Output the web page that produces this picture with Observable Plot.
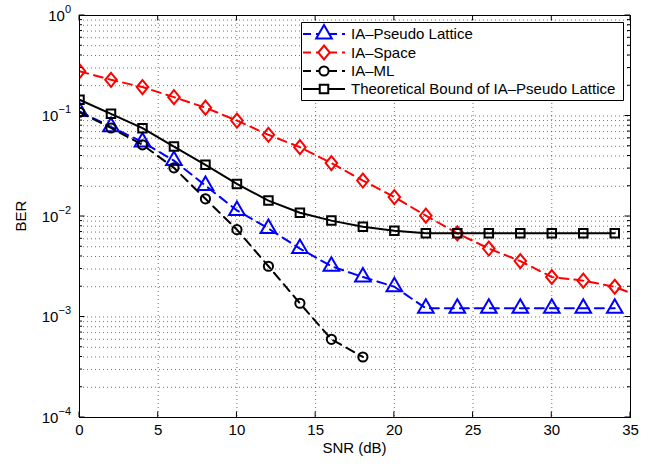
<!DOCTYPE html>
<html>
<head>
<meta charset="utf-8">
<script src="https://cdn.jsdelivr.net/npm/d3@7"></script>
<script src="https://cdn.jsdelivr.net/npm/@observablehq/plot@0.6"></script>
<style>
  body { margin: 0; background: #fff; }
  svg { font-family: "Liberation Sans", Arial, Helvetica, sans-serif; }
</style>
</head>
<body>
<div id="chart"></div>
<script>
// ---- data ----
const snr      = [0, 2, 4, 6, 8, 10, 12, 14, 16, 18, 20, 22, 24, 26, 28, 30, 32, 34];
const snrSpace = [0, 2, 4, 6, 8, 10, 12, 14, 16, 18, 20, 22, 24, 26, 28, 30, 32, 34, 36];
const snrML    = [0, 2, 4, 6, 8, 10, 12, 14, 16, 18];

const berPseudoLattice = [0.111, 0.078, 0.055, 0.036, 0.0203, 0.0115, 0.0076, 0.0048, 0.0032, 0.0025, 0.0020, 0.00122, 0.00122, 0.00122, 0.00122, 0.00122, 0.00122, 0.00122];
const berSpace         = [0.279, 0.229, 0.194, 0.154, 0.121, 0.090, 0.065, 0.049, 0.034, 0.0228, 0.0156, 0.0102, 0.0068, 0.0048, 0.0036, 0.0025, 0.0023, 0.0020, 0.0015];
const berML            = [0.109, 0.076, 0.0517, 0.0305, 0.0150, 0.0074, 0.0032, 0.00137, 0.00060, 0.00040];
const berBound         = [0.145, 0.105, 0.0757, 0.0497, 0.0327, 0.0211, 0.0144, 0.0109, 0.0091, 0.0079, 0.0072, 0.0068, 0.0068, 0.0068, 0.0068, 0.0068, 0.0068, 0.0068];

const seriesNames = ["IA\u2013Pseudo Lattice", "IA\u2013Space", "IA\u2013ML", "Theoretical Bound of IA\u2013Pseudo Lattice"];
const xTicks = [0, 5, 10, 15, 20, 25, 30, 35];
const yTicks = [1e-4, 1e-3, 1e-2, 1e-1, 1];
const yTickExponents = ["\u22124", "\u22123", "\u22122", "\u22121", "0"];
const yMinor = [2e-4, 3e-4, 4e-4, 5e-4, 6e-4, 7e-4, 8e-4, 9e-4,
                2e-3, 3e-3, 4e-3, 5e-3, 6e-3, 7e-3, 8e-3, 9e-3,
                2e-2, 3e-2, 4e-2, 5e-2, 6e-2, 7e-2, 8e-2, 9e-2,
                2e-1, 3e-1, 4e-1, 5e-1, 6e-1, 7e-1, 8e-1, 9e-1];

// ---- styling ----
const diamondSym = {
  draw(ctx, size) {
    const w = Math.sqrt(size) * 0.56, h = Math.sqrt(size) * 0.68;
    ctx.moveTo(0, -h); ctx.lineTo(w, 0); ctx.lineTo(0, h); ctx.lineTo(-w, 0); ctx.closePath();
  }
};
const styles = [
  {x: snr,      y: berPseudoLattice, color: "#0000ff", dash: "9,6", symbol: "triangle", r: 5.8},
  {x: snrSpace, y: berSpace,         color: "#ff0000", dash: "9,6", symbol: diamondSym, r: 5.8},
  {x: snrML,    y: berML,            color: "#000000", dash: "9,6", symbol: "circle",   r: 4.6},
  {x: snr,      y: berBound,         color: "#000000", dash: null,  symbol: "square",   r: 4.8}
];

const tables = styles.map((s, i) => s.x.map((v, j) => ({snr: v, ber: s.y[j], name: seriesNames[i]})));

const dataMarks = [];
styles.forEach((s, i) => {
  dataMarks.push(Plot.line(tables[i], {x: "snr", y: "ber", stroke: s.color, strokeWidth: 2, strokeDasharray: s.dash || undefined, clip: true}));
  dataMarks.push(Plot.dot(tables[i], {x: "snr", y: "ber", stroke: s.color, strokeWidth: 2, fill: "none", symbol: () => s.symbol, r: s.r, clip: true}));
});

const W = 662, H = 472;
const plot = Plot.plot({
  width: W, height: H,
  marginLeft: 79, marginRight: 32, marginTop: 15, marginBottom: 55,
  x: {domain: [0, 35]},
  y: {type: "log", domain: [1e-4, 1], axis: null},
  symbol: {type: "identity"},
  style: {fontFamily: "'Liberation Sans', Arial, Helvetica, sans-serif", fontSize: "15px", color: "#000", background: "#fff"},
  marks: [
    Plot.gridY(yMinor, {stroke: "#000", strokeOpacity: 0.55, strokeDasharray: "1,3"}),
    Plot.gridY(yTicks, {stroke: "#000", strokeOpacity: 0.55, strokeDasharray: "1,3"}),
    Plot.gridX(xTicks, {stroke: "#000", strokeOpacity: 0.55, strokeDasharray: "1,3"}),
    ...dataMarks,
    Plot.frame({stroke: "#000", strokeWidth: 1}),
    Plot.axisX(xTicks, {tickSize: 0, tickPadding: 7, fontSize: 15, label: null, tickFormat: d => String(d)})
  ]
});

document.getElementById("chart").appendChild(plot);

// ---- decorations (ticks, y labels, axis titles, legend) ----
const svg = d3.select(plot);
const sx = plot.scale("x"), sy = plot.scale("y");
const x0 = sx.apply(0), x1 = sx.apply(35), yBot = sy.apply(1e-4), yTop = sy.apply(1);
const g = svg.append("g").attr("stroke", "#000").attr("stroke-width", 1);
yTicks.forEach(v => {
  const y = sy.apply(v);
  g.append("line").attr("x1", x0).attr("x2", x0 + 5.5).attr("y1", y).attr("y2", y);
  g.append("line").attr("x1", x1).attr("x2", x1 - 5.5).attr("y1", y).attr("y2", y);
});
yMinor.forEach(v => {
  const y = sy.apply(v);
  g.append("line").attr("x1", x0).attr("x2", x0 + 3).attr("y1", y).attr("y2", y);
  g.append("line").attr("x1", x1).attr("x2", x1 - 3).attr("y1", y).attr("y2", y);
});
xTicks.forEach(v => {
  const x = sx.apply(v);
  g.append("line").attr("x1", x).attr("x2", x).attr("y1", yBot).attr("y2", yBot - 5.5);
  g.append("line").attr("x1", x).attr("x2", x).attr("y1", yTop).attr("y2", yTop + 5.5);
});

yTicks.forEach((v, i) => {
  const t = svg.append("text")
    .attr("x", x0 - 8).attr("y", sy.apply(v) + 5.5)
    .attr("text-anchor", "end").attr("font-size", 15).attr("fill", "#000").text("10");
  t.append("tspan").attr("dy", -8).attr("font-size", 11).text(yTickExponents[i]);
});

svg.append("text").attr("x", (x0 + x1) / 2).attr("y", 453)
  .attr("text-anchor", "middle").attr("font-size", 15).attr("fill", "#000").text("SNR (dB)");
svg.append("text").attr("transform", `translate(26,${(yTop + yBot) / 2}) rotate(-90)`)
  .attr("text-anchor", "middle").attr("font-size", 15).attr("fill", "#000").text("BER");

// legend
const lg = svg.append("g").attr("text-anchor", "start");
lg.append("path").attr("d", "M301.5,22.5H623.5V100.5H301.5Z")
  .style("fill", "#ffffff").style("stroke", "#000000").style("stroke-width", "1px");
const rowY = [34, 52.5, 71, 89];
styles.forEach((s, i) => {
  const y = rowY[i];
  lg.append("line").attr("x1", 303).attr("x2", 345).attr("y1", y).attr("y2", y)
    .attr("stroke", s.color).attr("stroke-width", 2).attr("stroke-dasharray", s.dash ? "8,5" : null);
  const symType = typeof s.symbol === "string"
    ? {triangle: d3.symbolTriangle, circle: d3.symbolCircle, square: d3.symbolSquare}[s.symbol]
    : s.symbol;
  lg.append("path").attr("transform", `translate(324,${y})`)
    .attr("d", d3.symbol(symType, Math.PI * s.r * s.r)())
    .style("fill", "#ffffff").attr("stroke", s.color).attr("stroke-width", 2);
  lg.append("text").attr("x", 351).attr("y", y + 5.3).attr("text-anchor", "start")
    .attr("font-size", 15).attr("fill", "#000").text(seriesNames[i]);
});
</script>
</body>
</html>
